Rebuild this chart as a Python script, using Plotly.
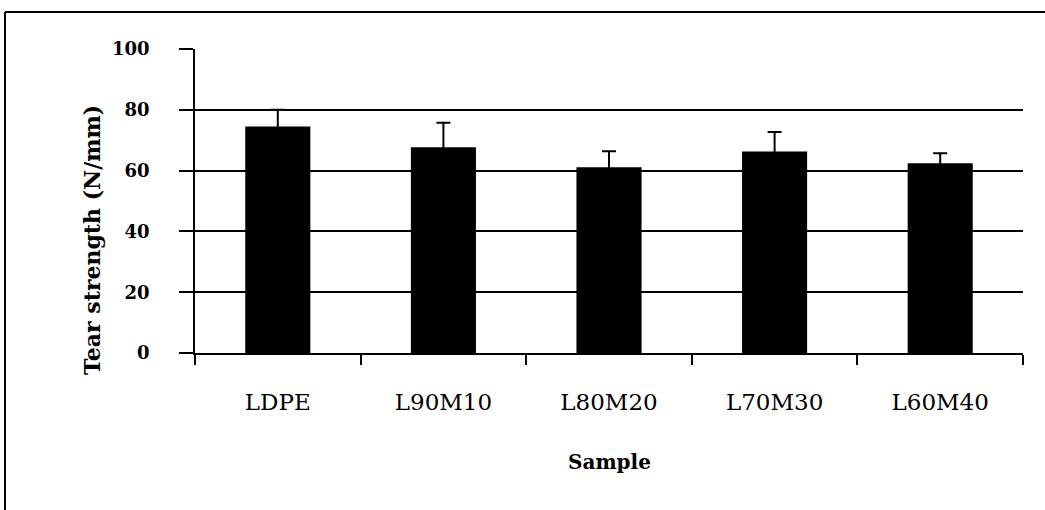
import plotly.graph_objects as go

samples = ["LDPE", "L90M10", "L80M20", "L70M30", "L60M40"]
tear_strength = [74.5, 67.7, 61.1, 66.3, 62.4]
tear_error = [5.5, 8.0, 5.3, 6.4, 3.3]
y_ticks = [0, 20, 40, 60, 80, 100]

W, H = 1045, 510
L, R, T, B = 195, 22, 49, 157
pw, ph = W - L - R, H - T - B


def px_x(x):
    return (x - L) / pw


def px_y(y):
    return (H - B - y) / ph


fig = go.Figure()
fig.add_trace(go.Bar(
    x=samples,
    y=tear_strength,
    marker=dict(color="black", line=dict(width=0)),
    error_y=dict(type="data", array=tear_error, visible=True,
                 color="black", thickness=2, width=7),
    showlegend=False,
))

fig.update_layout(
    width=W, height=H,
    margin=dict(l=L, r=R, t=T, b=B),
    paper_bgcolor="white",
    plot_bgcolor="white",
    bargap=0.607,
    font=dict(family="DejaVu Serif", color="black"),
    xaxis=dict(
        showline=True, linecolor="black", linewidth=1.5,
        ticks="outside", tickson="boundaries", ticklen=10,
        tickcolor="black", tickwidth=1.5,
        tickfont=dict(family="DejaVu Serif", size=23, color="black"),
        ticklabelstandoff=28,
        showgrid=False,
    ),
    yaxis=dict(
        range=[0, 100],
        tickvals=y_ticks,
        showline=True, linecolor="black", linewidth=1.5,
        ticks="outside", ticklen=14, tickcolor="black", tickwidth=1.5,
        tickfont=dict(family="DejaVu Serif", size=18, color="black", weight="bold"),
        ticklabelstandoff=26,
        showgrid=True, gridcolor="black", gridwidth=1.5,
        zeroline=False,
    ),
    annotations=[
        dict(text="<b>Tear strength (N/mm)</b>", textangle=-90,
             xref="paper", yref="paper", x=px_x(92), y=px_y(240),
             xanchor="center", yanchor="middle", showarrow=False,
             font=dict(family="DejaVu Serif", size=22, color="black")),
        dict(text="<b>Sample</b>",
             xref="paper", yref="paper", x=0.5, y=px_y(462),
             xanchor="center", yanchor="middle", showarrow=False,
             font=dict(family="DejaVu Serif", size=20, color="black")),
    ],
    shapes=[
        dict(type="line", xref="paper", yref="paper",
             x0=px_x(5), x1=px_x(1050), y0=px_y(12), y1=px_y(12),
             line=dict(color="black", width=2)),
        dict(type="line", xref="paper", yref="paper",
             x0=px_x(5), x1=px_x(5), y0=px_y(12), y1=px_y(515),
             line=dict(color="black", width=2)),
    ],
)

fig.write_html("out.html", config={"displayModeBar": False},
               post_script="document.body.style.margin='0';")
